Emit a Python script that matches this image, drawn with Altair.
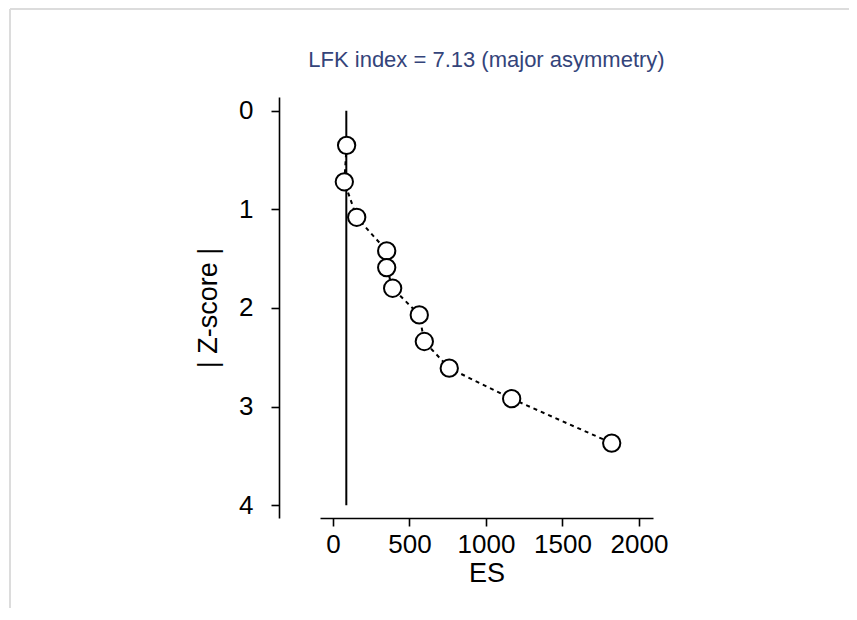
import altair as alt
import pandas as pd

# Data (LFK / Doi plot)
es_values = [89, 74, 155, 351, 351, 390, 564, 597, 760, 1168, 1822]
z_values = [0.35, 0.72, 1.08, 1.42, 1.59, 1.80, 2.07, 2.34, 2.61, 2.92, 3.37]
ref_es = [87, 87]
ref_z = [0, 4]
x_ticks = [0, 500, 1000, 1500, 2000]
y_ticks = [0, 1, 2, 3, 4]
title_text = "LFK index = 7.13 (major asymmetry)"

FONT = "Liberation Sans"

pts = pd.DataFrame({"ES": es_values, "Z": z_values, "order": list(range(len(es_values)))})
ref = pd.DataFrame({"ES": ref_es, "Z": ref_z})
ttl = pd.DataFrame({"t": [title_text]})

xscale = alt.Scale(domain=[-85, 2092], nice=False, zero=False)
yscale = alt.Scale(domain=[-0.14, 4.13], nice=False, zero=False, reverse=True)

xaxis = alt.Axis(values=x_ticks, format="d", title="ES", grid=False, domainColor="black", domainWidth=1.6,
                 tickColor="black", tickWidth=1.6, tickSize=8, labelFont=FONT, labelFontSize=26,
                 labelColor="black", labelPadding=5, titleFont=FONT, titleFontSize=27,
                 titleFontWeight="normal", titleColor="black", titlePadding=3, offset=0)
yaxis = alt.Axis(values=y_ticks, format="d", title="| Z-score |", grid=False, domainColor="black", domainWidth=1.6,
                 tickColor="black", tickWidth=1.6, tickSize=8, labelFont=FONT, labelFontSize=26,
                 labelColor="black", labelPadding=18, titleFont=FONT, titleFontSize=27,
                 titleFontWeight="normal", titleColor="black", titlePadding=16, offset=41)

x = alt.X("ES:Q", scale=xscale, axis=xaxis)
y = alt.Y("Z:Q", scale=yscale, axis=yaxis)

ref_line = alt.Chart(ref).mark_line(color="black", strokeWidth=2).encode(x=x, y=y)

dashed = alt.Chart(pts).mark_line(color="black", strokeWidth=2, strokeDash=[4, 4]).encode(
    x=alt.X("ES:Q", scale=xscale), y=alt.Y("Z:Q", scale=yscale), order="order:Q")

circles = alt.Chart(pts).mark_point(shape="circle", filled=True, fill="white", stroke="black",
                                    strokeWidth=2, size=300, opacity=1).encode(
    x=alt.X("ES:Q", scale=xscale), y=alt.Y("Z:Q", scale=yscale))

title_mark = alt.Chart(ttl).mark_text(font=FONT, fontSize=22, color="#34447a", align="center",
                                      baseline="alphabetic").encode(
    text="t:N", x=alt.value(166.5), y=alt.value(-30))

# faint page frame seen in the reference screenshot
frame_top = alt.Chart(ttl).mark_rule(color="#dcdcdc", strokeWidth=2).encode(
    x=alt.value(-310), x2=alt.value(530), y=alt.value(-88))
frame_left = alt.Chart(ttl).mark_rule(color="#dcdcdc", strokeWidth=2).encode(
    x=alt.value(-310), y=alt.value(-88), y2=alt.value(530))

chart = alt.layer(frame_top, frame_left, ref_line, dashed, circles, title_mark).properties(
    width=333, height=421,
    background="white",
    autosize=alt.AutoSizeParams(type="none"),
    padding={"left": 312, "top": 89, "right": 196, "bottom": 90},
).configure_view(strokeWidth=0, stroke="transparent")

chart.save("out.html", embed_options={"renderer": "svg", "actions": False})
